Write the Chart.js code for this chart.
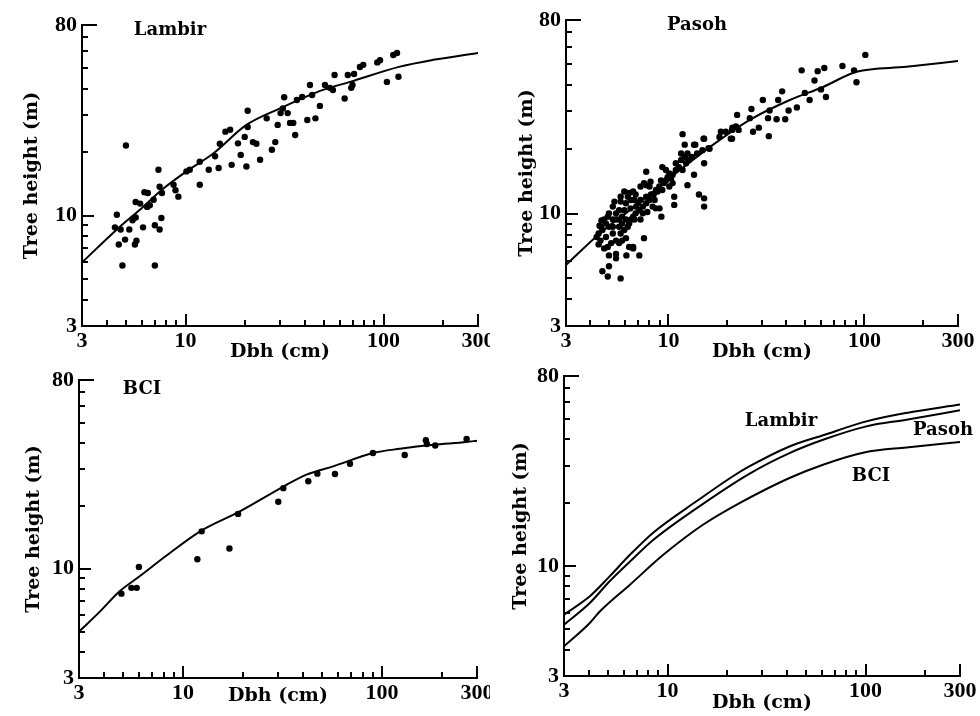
<!DOCTYPE html>
<html>
<head>
<meta charset="utf-8">
<script src="https://cdn.jsdelivr.net/npm/chart.js@4.4.0/dist/chart.umd.min.js"></script>
<style>
  html, body { margin: 0; padding: 0; background: #fff; width: 980px; height: 716px; overflow: hidden; }
  canvas { position: absolute; }
</style>
</head>
<body>
<canvas id="lambir" width="490" height="370" style="left:0;top:0"></canvas>
<canvas id="pasoh" width="490" height="370" style="left:490px;top:0"></canvas>
<canvas id="bci" width="490" height="358" style="left:0;top:358px"></canvas>
<canvas id="compare" width="490" height="358" style="left:490px;top:358px"></canvas>
<script>
// axis ticks (log-log)
const xTicks = [3, 10, 100, 300];
const yTicks = [3, 10, 80];
const xMinor = [4, 5, 6, 7, 8, 9, 20, 30, 40, 50, 60, 70, 80, 90, 200];
const yMinor = [4, 5, 6, 7, 8, 9, 20, 30, 40, 50, 60, 70];

// Lambir trees: dbh (cm), height (m)
const lambirDbh = [5.0, 4.5, 4.4, 4.7, 4.6, 4.95, 5.2, 5.6, 5.4, 5.55, 5.65, 5.6, 5.9, 6.2, 6.45, 6.6, 6.4, 6.1, 7.0, 7.4,
  7.55, 7.4, 7.3, 6.9, 7.6, 4.8, 7.0, 8.7, 9.2, 8.9,
  10.1, 10.5, 11.8, 11.8, 13.1, 14.1, 14.7, 14.9, 15.9, 16.8, 17.1, 18.4, 19.0, 19.9, 20.3, 20.6, 20.6, 21.9, 22.8, 23.8,
  25.7, 27.3, 28.4, 31.0, 29.2, 30.2, 31.5, 32.8, 33.7, 35.0, 35.8, 36.5, 38.8, 41.2, 43.6, 45.3, 47.7, 50.6, 53.6, 55.5,
  63.6, 66, 68.7, 69.7, 71, 76, 79, 93, 104, 112, 117, 119, 56.6, 42.5, 96];
const lambirHeight = [21.5, 10.1, 8.8, 8.6, 7.3, 7.7, 8.6, 9.8, 9.5, 7.3, 7.6, 11.6, 11.4, 12.9, 12.8, 11.2, 11.0, 8.8, 9.0, 8.6,
  9.75, 13.7, 16.5, 11.9, 12.8, 5.8, 5.8, 14.0, 12.3, 13.2,
  16.2, 16.5, 18.0, 14.0, 16.5, 19.1, 16.8, 21.9, 25.0, 25.5, 17.4, 22.0, 19.4, 23.6, 17.1, 31.4, 26.3, 22.3, 21.9, 18.4,
  28.9, 20.5, 22.3, 32.2, 26.9, 30.6, 36.4, 30.6, 27.5, 27.5, 24.1, 35.3, 36.5, 28.4, 37.3, 28.9, 33.1, 41.6, 40.3, 39.4,
  35.9, 46.4, 40.3, 41.6, 46.9, 50.6, 51.8, 53.2, 43.0, 57.7, 58.9, 45.5, 46.4, 41.6, 54.5];
const lambirFitDbh = [3, 4.5, 6.1, 7.7, 10.1, 13.8, 20.3, 30, 49.5, 67.7, 121, 178, 300];
const lambirFitHeight = [6.0, 8.6, 11.0, 13.4, 16.2, 19.7, 26.9, 32.2, 39.4, 43.0, 50.8, 54.7, 59];

// Pasoh trees
const pasohDbh = [11.8, 15.2, 12.1, 13.5, 11.6, 7.7, 15.2, 13.5, 12.5, 14.3, 15.2, 15.2, 10.7, 10.7, 7.5, 7.1, 6.1, 6.6, 5.4, 5.4,
  4.97, 4.97, 4.6, 4.9, 5.7,
  4.4, 4.5, 4.6, 4.8, 4.9, 4.97, 5.2, 5.3, 5.4, 5.6, 5.7, 5.8, 5.95, 6.07, 6.2, 6.3, 6.6, 6.8, 6.07, 6.3,
  6.6, 6.8, 7.2, 7.4, 7.7, 8.0, 8.3, 8.6, 9.0, 9.2, 7.8, 7.2, 7.5, 5.4, 5.6, 5.8, 6.07, 6.3, 6.6, 5.2,
  4.9, 4.7, 5.1, 5.7, 6.4, 7.0, 7.2, 4.3, 4.45, 4.55, 4.4,
  4.53, 4.7, 4.97, 5.2, 5.4, 5.6, 5.6, 5.8, 5.95, 6.2, 6.44, 6.7, 6.83, 7.1, 7.4, 7.7, 8.14, 8.5, 8.64, 8.98,
  9.16, 9.5, 9.9, 10.5, 10.9, 11.6, 12.1, 12.5, 4.8, 5.2, 5.7, 5.95, 6.44, 6.7,
  9.3, 9.7, 10.1, 10.3, 10.5, 10.9, 11.3, 11.8, 12.3, 12.7, 13.2, 14.0, 14.9, 16.0, 9.7, 10.1, 9.3, 8.8, 8.4, 8.0,
  8.1, 7.7, 18.2, 19.6, 21.1, 22.1, 21.1,
  13.7, 15.1, 16.2, 18.5, 20.8, 21.2, 22.4, 22.8, 26.5, 26.0, 27.0, 28.9, 30.3, 32.2, 32.8, 32.5, 36.3, 35.6, 39.4, 41.0,
  45.2, 38.0, 47.8, 49.6, 52.5, 55.6, 57.7, 60, 62.4, 63.6, 77.2, 88.5, 91, 101];
const pasohHeight = [23.5, 22.4, 21.0, 21.0, 19.1, 15.7, 17.2, 15.2, 13.6, 12.3, 11.8, 10.8, 12.0, 11.0, 7.7, 6.4, 6.4, 7.0, 6.5, 6.2,
  6.4, 5.7, 5.4, 5.1, 5.0,
  8.1, 7.5, 8.4, 9.0, 9.7, 10.05, 10.8, 11.4, 9.4, 8.7, 8.1, 9.7, 10.4, 11.2, 12.0, 12.5, 12.7, 12.3, 9.4, 9.0,
  9.7, 10.05, 9.4, 10.8, 11.2, 11.6, 10.8, 10.6, 10.6, 9.7, 10.2, 13.4, 13.9, 7.5, 7.3, 7.5, 7.7, 7.0, 6.9, 8.1,
  7.0, 6.9, 7.3, 11.4, 10.6, 11.2, 11.6, 7.8, 8.8, 9.3, 7.2,
  8.7, 9.4, 8.7, 9.4, 10.05, 10.4, 9.4, 9.0, 8.4, 8.7, 9.4, 9.4, 10.8, 10.4, 10.05, 12.0, 12.3, 11.6, 12.9, 13.4,
  14.3, 13.9, 14.8, 15.2, 17.2, 17.8, 18.4, 19.1, 7.8, 8.7, 12.0, 12.7, 11.6, 11.6,
  16.5, 16.0, 15.4, 14.6, 13.9, 16.0, 16.5, 16.0, 17.2, 17.8, 18.4, 19.1, 19.8, 20.2, 14.3, 13.4, 12.9, 12.7, 12.3, 13.4,
  14.1, 13.6, 22.8, 24.1, 24.6, 25.5, 22.4,
  21.0, 22.4, 20.1, 24.1, 22.4, 25.2, 28.9, 24.6, 30.8, 27.9, 24.1, 25.2, 33.9, 27.9, 30.3, 23.0, 33.9, 27.6, 27.6, 30.3,
  31.3, 37.2, 46.6, 36.6, 33.9, 41.8, 46.2, 38.0, 47.8, 35.0, 48.8, 46.6, 41, 55];
const pasohFitDbh = [3, 4.46, 6.35, 9.8, 16.3, 26, 41.6, 61.5, 91, 164, 300];
const pasohFitHeight = [5.77, 8.1, 10.4, 14.3, 20.5, 27.4, 33.9, 39.0, 45.9, 48.4, 51.5];

// BCI trees
const bciDbh = [4.9, 5.5, 5.85, 6.0, 11.8, 12.4, 17.1, 18.9, 30.1, 31.9, 42.6, 47.3, 58, 69, 90, 130, 166, 168, 185, 266];
const bciHeight = [7.6, 8.1, 8.1, 10.2, 11.1, 15.1, 12.5, 18.3, 20.9, 24.3, 26.2, 28.5, 28.4, 31.8, 35.8, 35, 41.2, 39.5, 38.9, 41.8];
const bciFitDbh = [3, 3.83, 4.8, 6.05, 8.2, 12.2, 19.3, 32.1, 41.7, 56.8, 90.3, 123, 181, 266, 300];
const bciFitHeight = [5.0, 6.25, 7.8, 9.2, 11.5, 15.1, 18.8, 24.8, 28.2, 30.9, 35.8, 37.5, 39.2, 40.4, 41];

// comparison panel curves
const cmpLambirDbh = [3, 4.05, 5.1, 6.46, 8.46, 14, 21.4, 26, 41.3, 61, 101, 161, 300];
const cmpLambirHeight = [5.87, 7.18, 8.93, 11.3, 14.4, 20.3, 26.7, 29.8, 37, 41.8, 48.7, 53.4, 58.5];
const cmpPasohDbh = [3, 4.05, 5.1, 6.46, 8.46, 14, 26, 41.3, 61, 101, 161, 300];
const cmpPasohHeight = [5.26, 6.67, 8.46, 10.5, 13.3, 18.8, 27.5, 34.4, 39.8, 46.1, 49.6, 55];
const cmpBciDbh = [3, 4.05, 4.56, 6.46, 9.52, 15.1, 23.1, 41.3, 61, 101, 161, 300];
const cmpBciHeight = [4.15, 5.36, 6.09, 8.15, 11.3, 15.7, 19.9, 26.2, 30.3, 34.8, 36.6, 38.8];

const tickFont = { family: "'Liberation Serif', serif", size: 22, weight: 'bold' };
const titleFont = { family: "'DejaVu Serif', serif", size: 19, weight: 'bold' };
const labelFont = "bold 18px 'DejaVu Serif', serif";

function pts(xs, ys) {
  return xs.map((v, i) => ({ x: v, y: ys[i] }));
}
function dots(xs, ys) {
  return { data: pts(xs, ys), pointRadius: 3.2, pointBackgroundColor: '#000', pointBorderWidth: 0, showLine: false };
}
function curve(xs, ys) {
  return { data: pts(xs, ys), showLine: true, pointRadius: 0, borderColor: '#000', borderWidth: 2,
    cubicInterpolationMode: 'monotone', fill: false };
}

// inward minor/major tick marks + in-plot labels
const tickMarks = {
  id: 'tickMarks',
  afterDraw(chart, args, opts) {
    const { ctx, chartArea: a, scales: { x, y } } = chart;
    ctx.save();
    ctx.strokeStyle = '#000';
    ctx.lineWidth = 2;
    ctx.lineCap = 'butt';
    ctx.beginPath();
    xMinor.forEach(v => {
      const p = Math.round(x.getPixelForValue(v));
      ctx.moveTo(p, a.bottom); ctx.lineTo(p, a.bottom - 6);
    });
    [10, 100].forEach(v => {
      const p = Math.round(x.getPixelForValue(v));
      ctx.moveTo(p, a.bottom); ctx.lineTo(p, a.bottom - 12);
    });
    const pr = Math.round(x.getPixelForValue(300));
    ctx.moveTo(pr, a.bottom); ctx.lineTo(pr, a.bottom - 12);
    yMinor.forEach(v => {
      const p = Math.round(y.getPixelForValue(v));
      ctx.moveTo(a.left, p); ctx.lineTo(a.left + 6, p);
    });
    const p10 = Math.round(y.getPixelForValue(10));
    ctx.moveTo(a.left, p10); ctx.lineTo(a.left + 12, p10);
    const p80 = Math.round(y.getPixelForValue(80));
    ctx.moveTo(a.left, p80); ctx.lineTo(a.left + 15, p80);
    ctx.stroke();

    ctx.fillStyle = '#000';
    ctx.font = labelFont;
    ctx.textAlign = 'center';
    ctx.textBaseline = 'middle';
    (opts.labels || []).forEach(l => ctx.fillText(l.text, l.x, l.y));
    ctx.restore();
  }
};

function panel(id, box, datasets, labels, yTitlePad, xTitlePad) {
  const cv = document.getElementById(id);
  const W = cv.width, H = cv.height;
  return new Chart(cv, {
    type: 'scatter',
    data: { datasets },
    options: {
      responsive: false,
      animation: false,
      devicePixelRatio: 1,
      events: [],
      layout: { padding: { left: 0, top: box.top, right: W - box.right, bottom: 0 } },
      plugins: { legend: { display: false }, tooltip: { enabled: false }, tickMarks: { labels } },
      scales: {
        x: {
          type: 'logarithmic', min: 3, max: 300,
          afterBuildTicks: s => { s.ticks = xTicks.map(v => ({ value: v })); },
          afterFit: s => { s.height = H - box.bottom; s.paddingLeft = 0; s.paddingRight = 0; },
          ticks: { callback: v => String(v), font: tickFont, color: '#000', padding: 2, maxRotation: 0, autoSkip: false },
          grid: { display: false, drawTicks: false },
          border: { display: true, color: '#000', width: 2 },
          title: { display: true, text: 'Dbh (cm)', font: titleFont, color: '#000', padding: { top: 0, bottom: xTitlePad } }
        },
        y: {
          type: 'logarithmic', min: 3, max: 80,
          afterBuildTicks: s => { s.ticks = yTicks.map(v => ({ value: v })); },
          afterFit: s => { s.width = box.left; s.paddingTop = 0; s.paddingBottom = 0; },
          ticks: { callback: v => String(v), font: tickFont, color: '#000', padding: 5, autoSkip: false },
          grid: { display: false, drawTicks: false },
          border: { display: true, color: '#000', width: 2 },
          title: { display: true, text: 'Tree height (m)', font: titleFont, color: '#000', padding: { top: yTitlePad, bottom: 0 } }
        }
      }
    },
    plugins: [tickMarks]
  });
}

panel('lambir', { left: 82, right: 478, top: 25, bottom: 326 },
  [curve(lambirFitDbh, lambirFitHeight), dots(lambirDbh, lambirHeight)],
  [{ text: 'Lambir', x: 170, y: 30 }], 21, 6.6);

panel('pasoh', { left: 76, right: 468, top: 20, bottom: 326 },
  [curve(pasohFitDbh, pasohFitHeight), dots(pasohDbh, pasohHeight)],
  [{ text: 'Pasoh', x: 207, y: 25 }], 26, 6.6);

panel('bci', { left: 79, right: 477, top: 22, bottom: 320 },
  [curve(bciFitDbh, bciFitHeight), dots(bciDbh, bciHeight)],
  [{ text: 'BCI', x: 142, y: 31 }], 23, 8.6);

panel('compare', { left: 74, right: 470, top: 18, bottom: 318 },
  [curve(cmpLambirDbh, cmpLambirHeight), curve(cmpPasohDbh, cmpPasohHeight), curve(cmpBciDbh, cmpBciHeight)],
  [{ text: 'Lambir', x: 291, y: 63 }, { text: 'Pasoh', x: 453, y: 72 }, { text: 'BCI', x: 381, y: 118 }], 20, 1.6);
</script>
</body>
</html>
